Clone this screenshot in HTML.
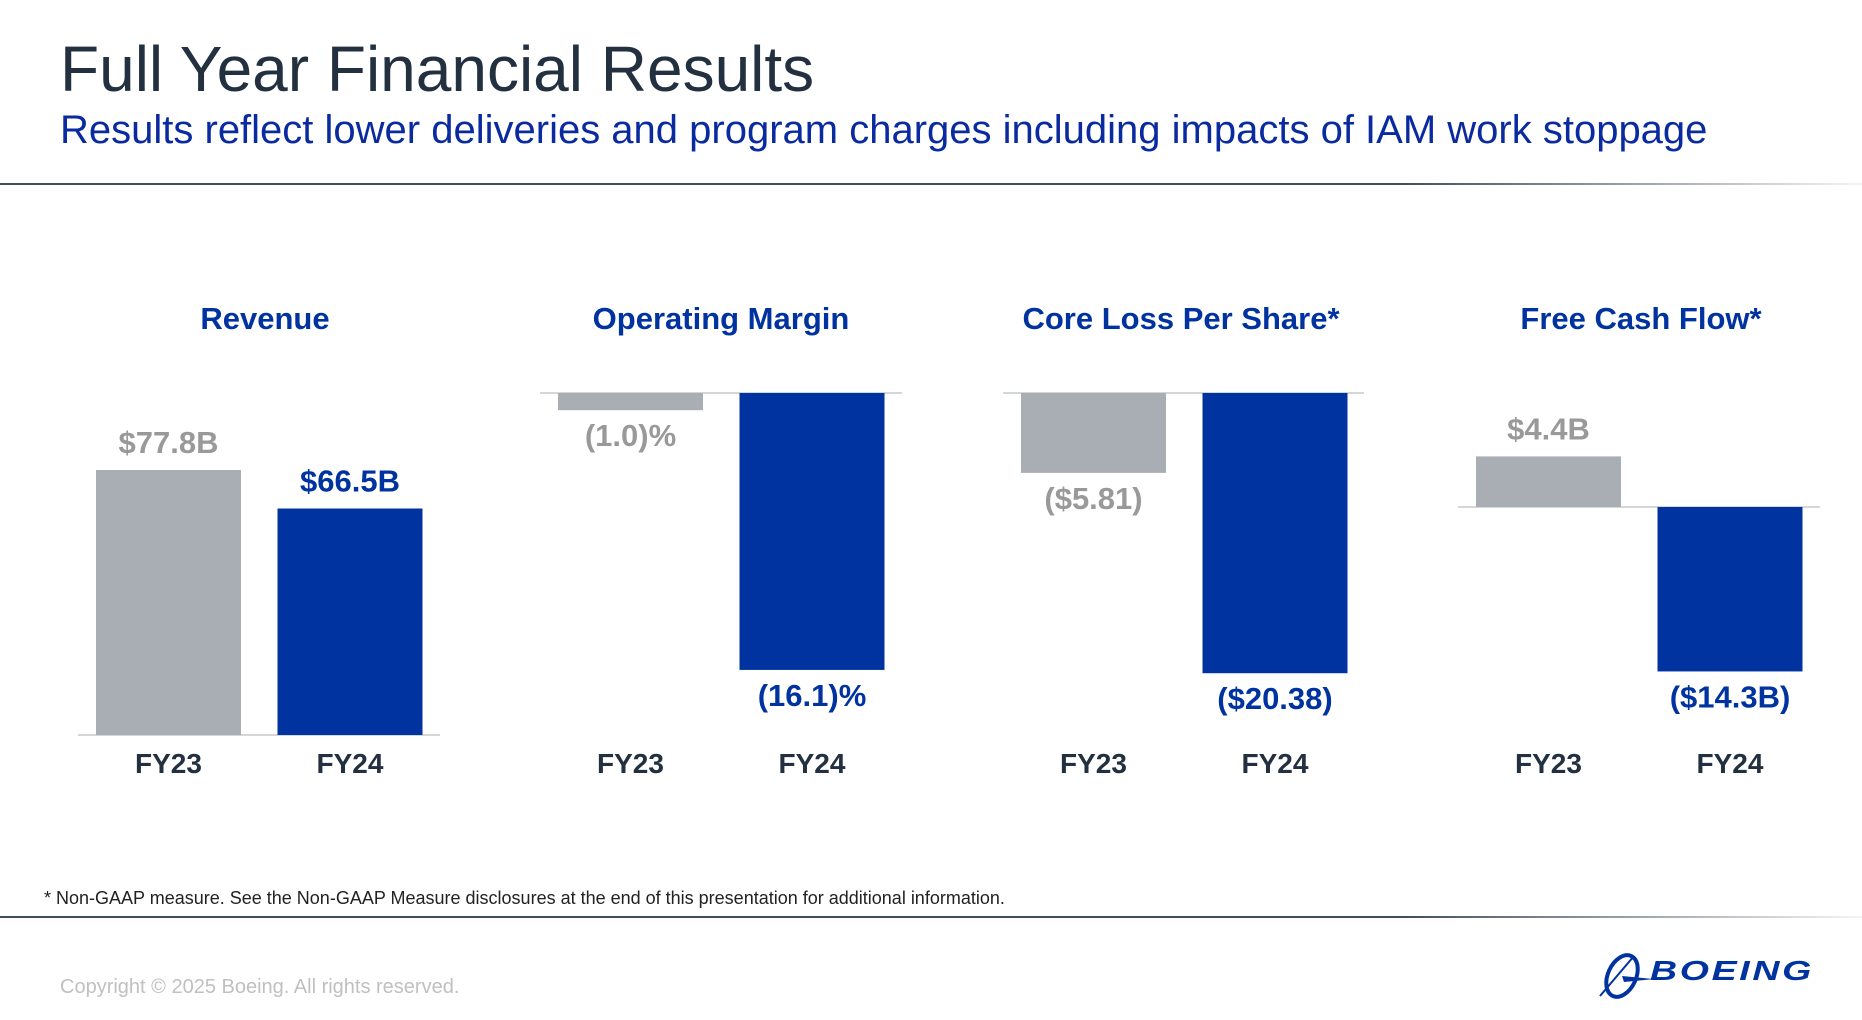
<!DOCTYPE html>
<html><head><meta charset="utf-8"><style>
html,body{margin:0;padding:0;background:#fff;}
body{width:1862px;height:1020px;position:relative;overflow:hidden;font-family:"Liberation Sans",Arial,sans-serif;}
.t{position:absolute;white-space:nowrap;}
</style></head><body>
<div class="t" style="left:60px;top:32px;font-size:64px;color:#223040;">Full Year Financial Results</div>
<div class="t" style="left:60px;top:108px;font-size:40px;color:#0a2aa0;">Results reflect lower deliveries and program charges including impacts of IAM work stoppage</div>
<div style="position:absolute;left:0;top:183px;width:1862px;height:2px;background:linear-gradient(90deg,#3f4d5c 0%,#3f4d5c 75%,#f4f4f4 100%);"></div>
<svg id="chart" width="1862" height="1020" style="position:absolute;left:0;top:0;font-family:'Liberation Sans',Arial,sans-serif;"></svg>
<div class="t" style="left:44px;top:888px;font-size:18px;color:#222;">* Non-GAAP measure. See the Non-GAAP Measure disclosures at the end of this presentation for additional information.</div>
<div style="position:absolute;left:0;top:916px;width:1862px;height:2px;background:linear-gradient(90deg,#3f4d5c 0%,#3f4d5c 75%,#f4f4f4 100%);"></div>
<div class="t" style="left:60px;top:976px;font-size:20px;color:#c0c0c0;">Copyright © 2025 Boeing. All rights reserved.</div>
<svg width="230" height="60" style="position:absolute;left:1594px;top:946px;">
<ellipse cx="28" cy="30" rx="14" ry="22" fill="none" stroke="#0033a0" stroke-width="4" transform="rotate(25 28 30)"/>
<path d="M6 50 L40 10" stroke="#0033a0" stroke-width="2"/>
<path d="M28 30 L60 33 L30 36 Z" fill="#0033a0"/>
<text x="56" y="34" font-size="28" font-weight="bold" font-style="italic" fill="#0033a0" letter-spacing="2" textLength="164" lengthAdjust="spacingAndGlyphs">BOEING</text>
</svg>
<script>
const titles = ["Revenue","Operating Margin","Core Loss Per Share*","Free Cash Flow*"];
const categories = ["FY23","FY24"];
const valuesRevenue = [77.8, 66.5];
const valuesMargin = [-1.0, -16.1];
const valuesCore = [-5.81, -20.38];
const valuesFcf = [4.4, -14.3];
const labelsRevenue = ["$77.8B","$66.5B"];
const labelsMargin = ["(1.0)%","(16.1)%"];
const labelsCore = ["($5.81)","($20.38)"];
const labelsFcf = ["$4.4B","($14.3B)"];
const NS="http://www.w3.org/2000/svg";
const svg=document.getElementById('chart');
function mk(tag,attrs){const e=document.createElementNS(NS,tag);for(const k in attrs)e.setAttribute(k,attrs[k]);svg.appendChild(e);return e;}
const panels=[
 {vals:valuesRevenue,labs:labelsRevenue,x0:78,x1:440,base:735,scale:3.406,titleX:265},
 {vals:valuesMargin,labs:labelsMargin,x0:540,x1:902,base:393,scale:17.2,titleX:721},
 {vals:valuesCore,labs:labelsCore,x0:1003,x1:1364,base:393,scale:13.75,titleX:1181},
 {vals:valuesFcf,labs:labelsFcf,x0:1458,x1:1820,base:507,scale:11.5,titleX:1641}
];
const colors=["#a8aeb4","#0033a0"], textColors=["#999999","#0033a0"];
panels.forEach((p,i)=>{
  const t=mk('text',{x:p.titleX,y:329,'text-anchor':'middle','font-size':31,'font-weight':'bold',fill:'#0033a0'});
  t.textContent=titles[i];
  
  
  const ax=mk('line',{x1:p.x0,x2:p.x1,y1:p.base,y2:p.base,stroke:'#d4d6d8','stroke-width':2});
  
  
  const y=v=>p.base - v*p.scale;
  p.vals.forEach((v,j)=>{
    const cx=p.x0+18+72.5+j*181.5;
    const top=Math.min(y(v),p.base), h=Math.abs(y(v)-p.base);
    const r=mk('rect',{x:cx-72.5,y:top,width:145,height:h,fill:colors[j]});
    
    
    const ly = v>=0 ? top-17 : top+h+36;
    const l=mk('text',{x:cx,y:ly,'text-anchor':'middle','font-size':31,'font-weight':'bold',fill:textColors[j]});
    l.textContent=p.labs[j];
    
    
    const c=mk('text',{x:cx,y:773,'text-anchor':'middle','font-size':28,'font-weight':'bold',fill:'#223040'});
    c.textContent=categories[j];
    
    
  });
});
</script>
</body></html>
